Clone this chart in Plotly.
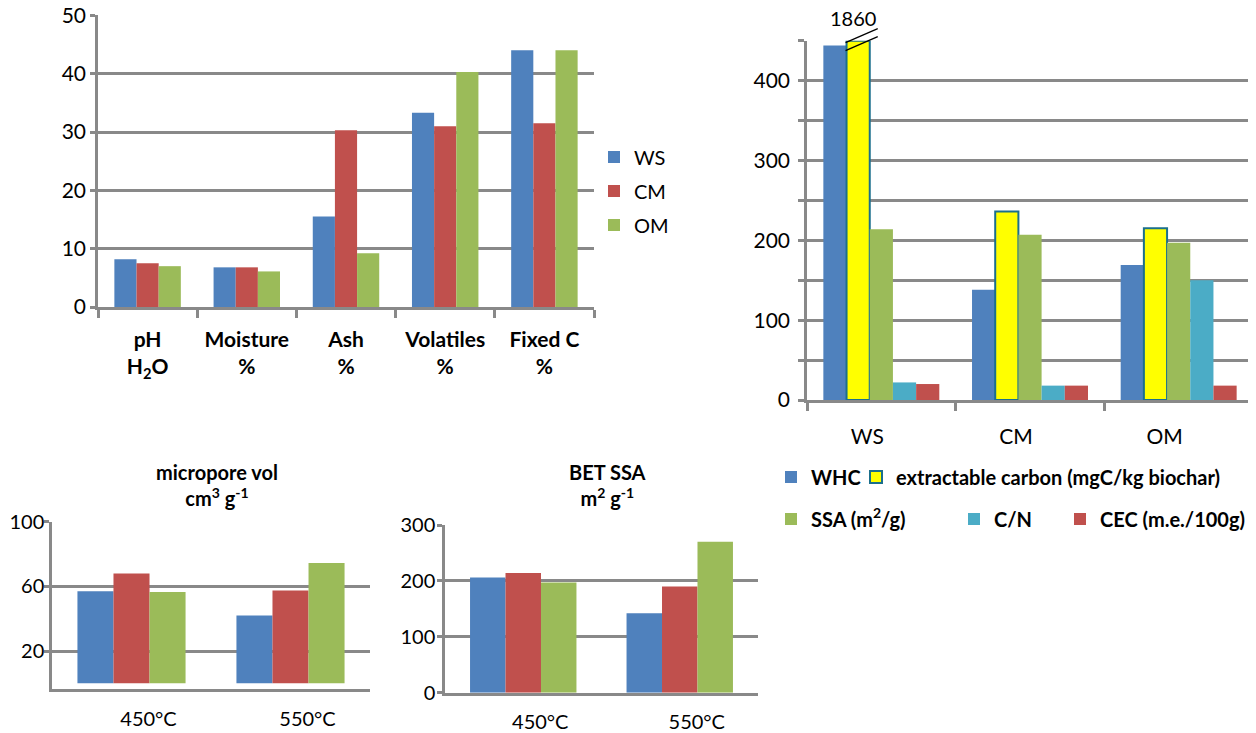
import plotly.graph_objects as go

W, H = 1256, 733
PAGE_OFF = 8  # default page margin of the html body

# ---------------- data ----------------
samples = ["WS", "CM", "OM"]
prop_labels = ["pH<br>H<sub>2</sub>O", "Moisture<br>%", "Ash<br>%", "Volatiles<br>%", "Fixed C<br>%"]
prop_WS = [8.2, 6.8, 15.5, 33.3, 44.0]
prop_CM = [7.5, 6.8, 30.3, 31.0, 31.5]
prop_OM = [7.0, 6.1, 9.2, 40.3, 44.0]

whc = [444, 138, 169]
ext_carbon = [1860, 236, 215]
ssa = [214, 207, 197]
c_n = [22, 18, 150]
cec = [20, 18, 18]
right_ymax = 450

temps = ["450°C", "550°C"]
micro_WS = [57, 42]
micro_CM = [68, 57.5]
micro_OM = [56.5, 74.5]
bet_WS = [206, 142]
bet_CM = [214, 190]
bet_OM = [197, 270]

# ---------------- style ----------------
BLUE, RED, GREEN, CYAN, YELLOW = "#4F81BD", "#C0504D", "#9BBB59", "#4BACC6", "#FFFF00"
TEAL = "#1B6F8C"
GRID = "#898989"
FONT = "Lato, Arial, sans-serif"
FS = 21


def px_x(p):
    return (p - PAGE_OFF) / W


def px_y(p):
    return 1 - (p - PAGE_OFF) / H


def dom_x(a, b):
    return [px_x(a), px_x(b)]


def dom_y(top, bottom):
    return [px_y(bottom), px_y(top)]


fig = go.Figure()

# ---- top-left chart ----
for name, vals, col, lg in [("WS", prop_WS, BLUE, "legend"), ("CM", prop_CM, RED, "legend2"),
                            ("OM", prop_OM, GREEN, "legend3")]:
    fig.add_trace(go.Bar(x=prop_labels, y=vals, name=name, marker=dict(color=col, line=dict(width=0)),
                         xaxis="x", yaxis="y", legend=lg))

# ---- top-right chart ----
right_series = [
    ("WHC", whc, dict(color=BLUE, line=dict(width=0)), "legend4"),
    ("extractable carbon (mgC/kg biochar)", [min(v, right_ymax) for v in ext_carbon],
     dict(color=YELLOW, line=dict(color=TEAL, width=2)), "legend5"),
    ("SSA (m<sup>2</sup>/g)", ssa, dict(color=GREEN, line=dict(width=0)), "legend6"),
    ("C/N", c_n, dict(color=CYAN, line=dict(width=0)), "legend7"),
    ("CEC (m.e./100g)", cec, dict(color=RED, line=dict(width=0)), "legend8"),
]
n_r = len(right_series)
gw = 0.78
bw = gw / n_r
for k, (name, vals, mk, lg) in enumerate(right_series):
    fig.add_trace(go.Bar(x=samples, y=vals, name=name, marker=mk, xaxis="x2", yaxis="y2",
                         legend=lg, width=bw, offset=-gw / 2 + k * bw))

# ---- bottom charts ----
bw3 = 0.68 / 3
for k, (vals, col) in enumerate([(micro_WS, BLUE), (micro_CM, RED), (micro_OM, GREEN)]):
    fig.add_trace(go.Bar(x=temps, y=vals, marker=dict(color=col, line=dict(width=0)),
                         xaxis="x3", yaxis="y3", showlegend=False, width=bw3, offset=-0.34 + k * bw3))
for k, (vals, col) in enumerate([(bet_WS, BLUE), (bet_CM, RED), (bet_OM, GREEN)]):
    fig.add_trace(go.Bar(x=temps, y=vals, marker=dict(color=col, line=dict(width=0)),
                         xaxis="x4", yaxis="y4", showlegend=False, width=bw3, offset=-0.34 + k * bw3))


def yax(domain, anchor, rng, tickvals, ticktext=None, ticklen=5, size=FS, standoff=0):
    d = dict(domain=domain, anchor=anchor, range=rng, tickvals=tickvals, showgrid=True,
             gridcolor=GRID, gridwidth=2.5, showline=True, linecolor=GRID, linewidth=2.5,
             ticks="outside", ticklen=ticklen, tickwidth=2.5, tickcolor=GRID, zeroline=False,
             tickfont=dict(family=FONT, size=size, color="#000"), fixedrange=True,
             automargin=False, ticklabeloverflow="allow", ticklabelstandoff=standoff)
    if ticktext is not None:
        d["ticktext"] = ticktext
    return d


def xax(domain, anchor, ticks=True, font=None, shift=0, standoff=None):
    d = dict(domain=domain, anchor=anchor, type="category", showline=True, linecolor=GRID,
             linewidth=2.5, showgrid=False, tickfont=font, fixedrange=True,
             ticklabelshift=shift, automargin=False, ticklabeloverflow="allow")
    if ticks:
        d.update(ticks="outside", tickson="boundaries", ticklen=8, tickwidth=2.5, tickcolor=GRID)
    else:
        d.update(ticks="")
    if standoff is not None:
        d["ticklabelstandoff"] = standoff
    return d


right_ticks = list(range(0, right_ymax + 1, 50))
right_text = [str(v) if v % 100 == 0 and v < right_ymax else "" for v in right_ticks]

fig.update_layout(
    width=W, height=H, margin=dict(l=0, r=0, t=0, b=0, autoexpand=False),
    paper_bgcolor="white", plot_bgcolor="white",
    font=dict(family=FONT, color="#000000"),
    barmode="group", bargap=0.33, bargroupgap=0,
    xaxis=xax(dom_x(98, 594), "y", font=dict(family=FONT, size=FS, color="#000", weight="bold"),
              standoff=12),
    yaxis=yax(dom_y(14.5, 307), "x", [0, 50.15], [0, 10, 20, 30, 40, 50]),
    xaxis2=xax(dom_x(807, 1253), "y2", font=dict(family=FONT, size=FS, color="#000"), shift=-14,
               standoff=16),
    yaxis2=yax(dom_y(40.7, 400), "x2", [0, right_ymax], right_ticks, right_text, ticklen=6,
               standoff=4),
    xaxis3=xax(dom_x(52, 370), "y3", ticks=False, font=dict(family=FONT, size=FS - 1, color="#000"),
               shift=17, standoff=10),
    yaxis3=yax(dom_y(521.7, 689.3), "x3", [-3.7, 100], [20, 60, 100], size=FS - 1, standoff=-4),
    xaxis4=xax(dom_x(445, 758), "y4", ticks=False, font=dict(family=FONT, size=FS - 1, color="#000"),
               shift=17, standoff=10),
    yaxis4=yax(dom_y(525, 692.7), "x4", [0, 300], [0, 100, 200, 300], size=FS - 1, standoff=-2),
)


# legends: one per entry to match free placement (cx = centre of the colour swatch)
def leg(cx, cy, size, bold):
    return dict(x=px_x(cx - 20), y=px_y(cy), xanchor="left", yanchor="middle",
                bgcolor="rgba(0,0,0,0)", borderwidth=0,
                font=dict(family=FONT, size=size, color="#000", weight="bold" if bold else "normal"),
                itemwidth=30)


fig.update_layout(
    legend=leg(614, 157, 20, False),
    legend2=leg(614, 191, 20, False),
    legend3=leg(614, 225, 20, False),
    legend4=leg(791, 477, 20, True),
    legend5=leg(876, 477, 20, True),
    legend6=leg(791, 519, 20, True),
    legend7=leg(974, 519, 20, True),
    legend8=leg(1080, 519, 20, True),
)

# titles of the bottom charts
x3d = fig.layout.xaxis3.domain
x4d = fig.layout.xaxis4.domain
for dom, txt, dx in [(x3d, "<b>micropore vol<br>cm<sup>3</sup> g<sup>-1</sup></b>", 6),
                     (x4d, "<b>BET SSA<br>m<sup>2</sup> g<sup>-1</sup></b>", 6)]:
    fig.add_annotation(x=(dom[0] + dom[1]) / 2 + dx / W, y=px_y(485), xref="paper", yref="paper",
                       xanchor="center", yanchor="middle", text=txt, showarrow=False,
                       font=dict(family=FONT, size=FS - 1, color="#000"), align="center")

# broken-bar marker on the extractable-carbon WS bar
x2d = fig.layout.xaxis2.domain
y2d = fig.layout.yaxis2.domain
cat_w = (x2d[1] - x2d[0]) / len(samples)
bar_left = x2d[0] + cat_w * (0 + 0.5 - gw / 2 + 1 * bw)
bar_right = bar_left + cat_w * bw
y_top = y2d[1]
for dy in (0, -8):
    fig.add_shape(type="line", xref="paper", yref="paper",
                  x0=bar_left - 1 / W, y0=y_top - 2 / H + dy / H,
                  x1=bar_right + 8 / W, y1=y_top + 12 / H + dy / H,
                  line=dict(color="#000", width=1.3))
fig.add_annotation(x=(bar_left + bar_right) / 2 - 5 / W, y=y_top + 23 / H, xref="paper", yref="paper",
                   xanchor="center", yanchor="middle",
                   text=str(ext_carbon[0]), showarrow=False, font=dict(family=FONT, size=FS - 1, color="#000"))

fig.write_html("out.html")
